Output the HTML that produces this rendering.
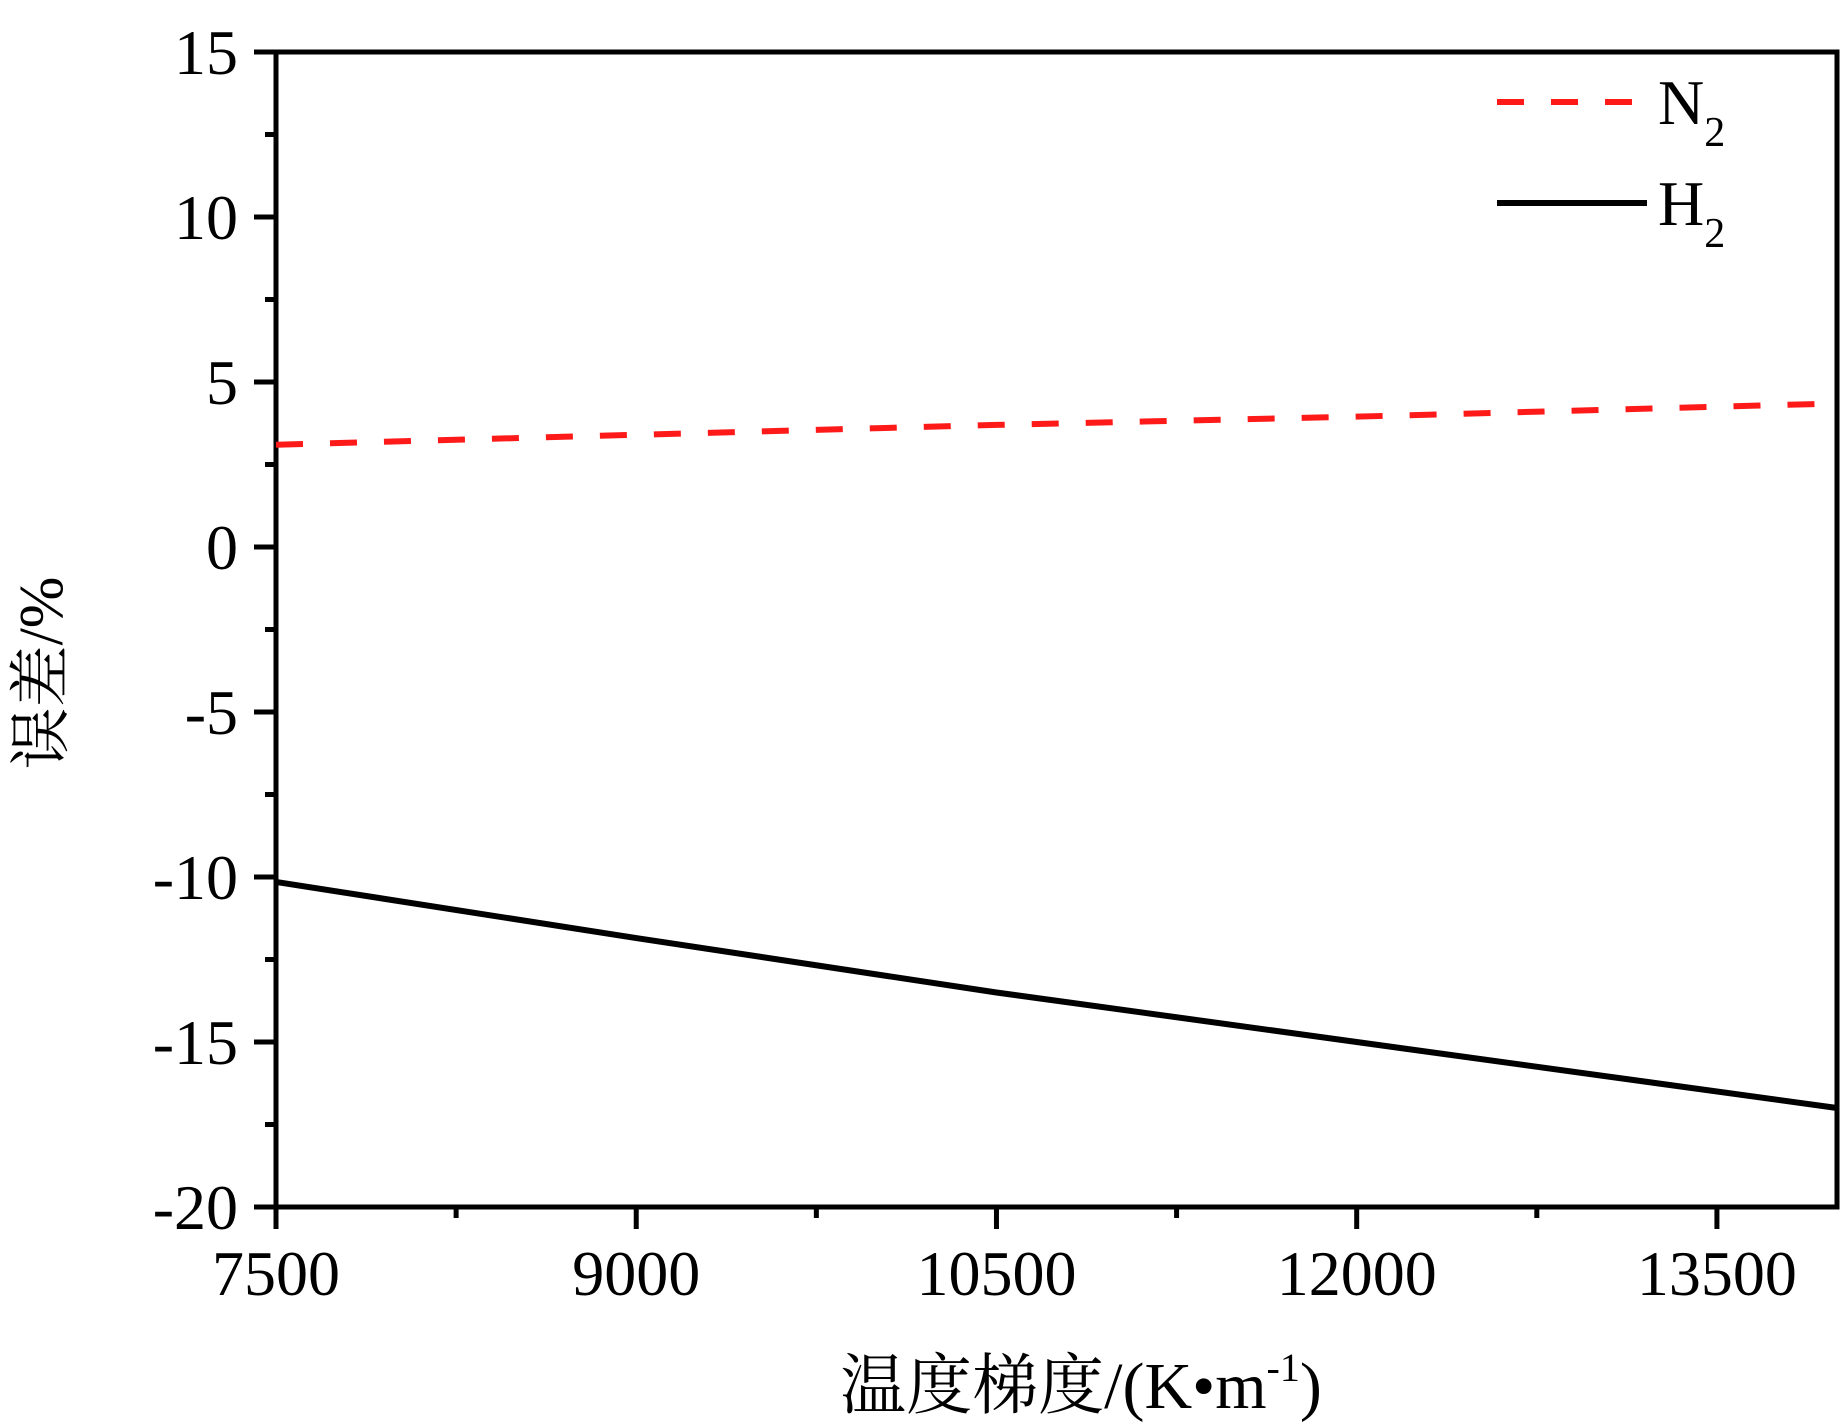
<!DOCTYPE html>
<html><head><meta charset="utf-8"><style>
html,body{margin:0;padding:0;background:#fff;}
svg{display:block;}
text{font-family:"Liberation Serif","Noto Serif CJK SC",serif;fill:#000;}
</style></head><body>
<svg id="chart" width="1843" height="1424" viewBox="0 0 1843 1424">
<g id="plot"></g>
<g>
<line x1="1497" y1="102" x2="1634" y2="102" stroke="#ff1a1a" stroke-width="6" stroke-dasharray="27,27"/>
<text x="1658" y="124" font-size="64">N<tspan font-size="42" dy="22">2</tspan></text>
<line x1="1497" y1="203" x2="1647" y2="203" stroke="#000" stroke-width="6"/>
<text x="1658" y="225" font-size="64">H<tspan font-size="42" dy="22">2</tspan></text>
</g>
<text transform="translate(62,673) rotate(-90)" text-anchor="middle" font-size="62">误差/%</text>
<text x="1081" y="1408" text-anchor="middle" font-size="66">温度梯度/(K•m<tspan font-size="40" dy="-27">-1</tspan><tspan dy="27">)</tspan></text>
</svg>
<script>
const xTicks = [7500, 9000, 10500, 12000, 13500];
const yTicks = [15, 10, 5, 0, -5, -10, -15, -20];
const xN2 = [7500, 9000, 10500, 12000, 14000];
const yN2 = [3.1, 3.4, 3.7, 3.95, 4.35];
const xH2 = [7500, 9000, 10500, 12000, 14000];
const yH2 = [-10.15, -11.85, -13.5, -15.0, -17.0];

const L = 276, R = 1837, T = 52, B = 1207;
const X0 = 7500, X1 = 14000, Y0 = -20, Y1 = 15;
const sx = v => L + (v - X0) / (X1 - X0) * (R - L);
const sy = v => B - (v - Y0) / (Y1 - Y0) * (B - T);
const NS = 'http://www.w3.org/2000/svg';
const g = document.getElementById('plot');
function mk(tag, attrs, parent) {
  const e = document.createElementNS(NS, tag);
  for (const k in attrs) e.setAttribute(k, attrs[k]);
  (parent || g).appendChild(e);
  return e;
}
const frame = mk('rect', {x: L, y: T, width: R - L, height: B - T, fill: 'none', stroke: '#000', 'stroke-width': 5});


for (let i = 0; i < xTicks.length; i++) {
  const v = xTicks[i];
  const t = mk('line', {x1: sx(v), x2: sx(v), y1: B, y2: B + 22, stroke: '#000', 'stroke-width': 5});
  
  
  const m = v + 750;
  if (m < X1) {
    const mt = mk('line', {x1: sx(m), x2: sx(m), y1: B, y2: B + 11, stroke: '#000', 'stroke-width': 5});
    
    
  }
  const lb = mk('text', {x: sx(v), y: B + 88, 'font-size': 64, 'text-anchor': 'middle'});
  lb.textContent = v;
  
  
}
for (let i = 0; i < yTicks.length; i++) {
  const v = yTicks[i];
  const t = mk('line', {x1: L - 22, x2: L, y1: sy(v), y2: sy(v), stroke: '#000', 'stroke-width': 5});
  
  
  if (v > Y0) {
    const mt = mk('line', {x1: L - 11, x2: L, y1: sy(v - 2.5), y2: sy(v - 2.5), stroke: '#000', 'stroke-width': 5});
    
    
  }
  const lb = mk('text', {x: L - 38, y: sy(v) + 22, 'font-size': 64, 'text-anchor': 'end'});
  lb.textContent = v;
  
  
}
function path(xs, ys) { return xs.map((x, i) => (i ? 'L' : 'M') + sx(x) + ',' + sy(ys[i])).join(' '); }
const n2 = mk('path', {d: path(xN2, yN2), fill: 'none', stroke: '#ff1a1a', 'stroke-width': 6, 'stroke-dasharray': '27,27'});


const h2 = mk('path', {d: path(xH2, yH2), fill: 'none', stroke: '#000', 'stroke-width': 6});


</script>
</body></html>
